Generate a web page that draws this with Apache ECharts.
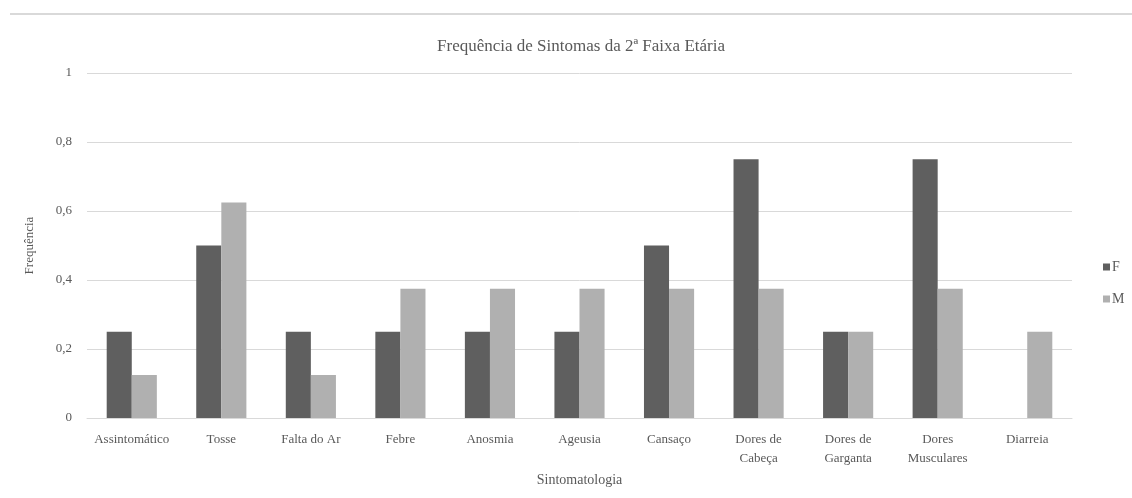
<!DOCTYPE html>
<html>
<head>
<meta charset="utf-8">
<script src="https://cdn.jsdelivr.net/npm/echarts@6/dist/echarts.min.js"></script>
<style>
  html, body { margin: 0; padding: 0; background: #fff; }
  #chart { width: 1132px; height: 498px; }
</style>
</head>
<body>
<div id="chart"></div>
<script>
// Symptom categories (x axis)
const categories = [
  'Assintomático', 'Tosse', 'Falta do Ar', 'Febre', 'Anosmia', 'Ageusia',
  'Cansaço', 'Dores de\nCabeça', 'Dores de\nGarganta', 'Dores\nMusculares', 'Diarreia'
];
// Relative frequency per sex
const valuesF = [0.25, 0.5, 0.25, 0.25, 0.25, 0.25, 0.5, 0.75, 0.25, 0.75, 0];
const valuesM = [0.125, 0.625, 0.125, 0.375, 0.375, 0.375, 0.375, 0.375, 0.25, 0.375, 0.25];
const seriesNames = ['F', 'M'];

const font = '"Liberation Serif", "DejaVu Serif", serif';
const textColor = '#595959';

const chart = echarts.init(document.getElementById('chart'), null, { renderer: 'canvas' });

chart.setOption({
  animation: false,
  backgroundColor: '#fff',
  textStyle: { fontFamily: font, color: textColor },
  title: {
    text: 'Frequência de Sintomas da 2ª Faixa Etária',
    left: 576,
    textAlign: 'center',
    top: 33,
    textStyle: { fontFamily: font, fontSize: 17, fontWeight: 'normal', color: textColor }
  },
  graphic: [{
    type: 'line',
    shape: { x1: 10, y1: 14, x2: 1132, y2: 14 },
    style: { stroke: '#d9d9d9', lineWidth: 2 }
  }],
  legend: {
    orient: 'vertical',
    left: 1098,
    top: 255,
    itemWidth: 7,
    itemHeight: 7,
    itemGap: 18,
    icon: 'rect',
    textStyle: { fontFamily: font, fontSize: 14, color: textColor, padding: [0, 0, 0, -3] },
    data: seriesNames
  },
  grid: { left: 87, right: 60, top: 73, bottom: 80 },
  xAxis: {
    type: 'category',
    data: categories,
    name: 'Sintomatologia',
    nameLocation: 'middle',
    nameGap: 52,
    nameTextStyle: { fontFamily: font, fontSize: 14, color: textColor },
    axisLine: { lineStyle: { color: '#d9d9d9', width: 1 } },
    axisTick: { show: false },
    axisLabel: { fontFamily: font, fontSize: 13, color: textColor, margin: 12, interval: 0, lineHeight: 19 }
  },
  yAxis: {
    type: 'value',
    min: 0,
    max: 1,
    interval: 0.2,
    name: 'Frequência',
    nameLocation: 'middle',
    nameGap: 51,
    nameTextStyle: { fontFamily: font, fontSize: 13, color: textColor },
    axisLine: { show: false },
    axisTick: { show: false },
    splitLine: { lineStyle: { color: '#d9d9d9', width: 1 } },
    axisLabel: {
      fontFamily: font, fontSize: 13, color: textColor, margin: 15,
      formatter: v => String(Math.round(v * 10) / 10).replace('.', ',')
    }
  },
  series: [
    {
      name: seriesNames[0],
      type: 'bar',
      data: valuesF,
      itemStyle: { color: '#5f5f5f' },
      barGap: '0%',
      barCategoryGap: '44%'
    },
    {
      name: seriesNames[1],
      type: 'bar',
      data: valuesM,
      itemStyle: { color: '#b0b0b0' },
      barGap: '0%',
      barCategoryGap: '44%'
    }
  ]
});
</script>
</body>
</html>
